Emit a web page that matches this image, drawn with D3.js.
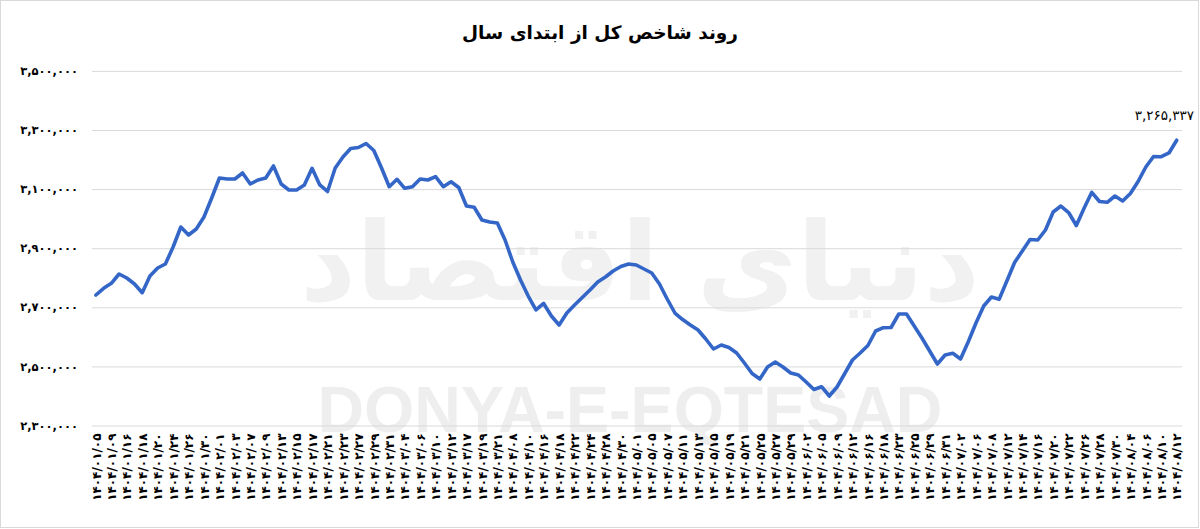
<!DOCTYPE html>
<html><head><meta charset="utf-8">
<script src="https://cdn.jsdelivr.net/npm/d3@7"></script>
<style>body{margin:0;background:#fff}svg{display:block}</style>
</head><body>
<svg id="chart" width="1200" height="529"></svg>
<script>
const chartTitle = "روند شاخص کل از ابتدای سال";
const watermarkFa = "دنیای اقتصاد";
const watermarkEn = "DONYA-E-EQTESAD";

// tick labels: one for every second trading day
const dateLabels = [
 "۱۴۰۴/۰۱/۰۵","۱۴۰۴/۰۱/۰۹","۱۴۰۴/۰۱/۱۶","۱۴۰۴/۰۱/۱۸","۱۴۰۴/۰۱/۲۰","۱۴۰۴/۰۱/۲۴","۱۴۰۴/۰۱/۲۶","۱۴۰۴/۰۱/۳۰",
 "۱۴۰۴/۰۲/۰۱","۱۴۰۴/۰۲/۰۳","۱۴۰۴/۰۲/۰۷","۱۴۰۴/۰۲/۰۹","۱۴۰۴/۰۲/۱۳","۱۴۰۴/۰۲/۱۵","۱۴۰۴/۰۲/۱۷","۱۴۰۴/۰۲/۲۱",
 "۱۴۰۴/۰۲/۲۳","۱۴۰۴/۰۲/۲۷","۱۴۰۴/۰۲/۲۹","۱۴۰۴/۰۲/۳۱",
 "۱۴۰۴/۰۳/۰۴","۱۴۰۴/۰۳/۰۶","۱۴۰۴/۰۳/۱۰","۱۴۰۴/۰۳/۱۲","۱۴۰۴/۰۳/۱۷","۱۴۰۴/۰۳/۱۹","۱۴۰۴/۰۳/۲۱",
 "۱۴۰۴/۰۴/۰۸","۱۴۰۴/۰۴/۱۰","۱۴۰۴/۰۴/۱۶","۱۴۰۴/۰۴/۱۸","۱۴۰۴/۰۴/۲۲","۱۴۰۴/۰۴/۲۴","۱۴۰۴/۰۴/۲۸","۱۴۰۴/۰۴/۳۰",
 "۱۴۰۴/۰۵/۰۱","۱۴۰۴/۰۵/۰۵","۱۴۰۴/۰۵/۰۷","۱۴۰۴/۰۵/۱۱","۱۴۰۴/۰۵/۱۳","۱۴۰۴/۰۵/۱۵","۱۴۰۴/۰۵/۱۹","۱۴۰۴/۰۵/۲۱",
 "۱۴۰۴/۰۵/۲۵","۱۴۰۴/۰۵/۲۷","۱۴۰۴/۰۵/۲۹",
 "۱۴۰۴/۰۶/۰۲","۱۴۰۴/۰۶/۰۵","۱۴۰۴/۰۶/۰۹","۱۴۰۴/۰۶/۱۲","۱۴۰۴/۰۶/۱۶","۱۴۰۴/۰۶/۱۸","۱۴۰۴/۰۶/۲۳","۱۴۰۴/۰۶/۲۵",
 "۱۴۰۴/۰۶/۲۹","۱۴۰۴/۰۶/۳۱",
 "۱۴۰۴/۰۷/۰۲","۱۴۰۴/۰۷/۰۶","۱۴۰۴/۰۷/۰۸","۱۴۰۴/۰۷/۱۲","۱۴۰۴/۰۷/۱۴","۱۴۰۴/۰۷/۱۶","۱۴۰۴/۰۷/۲۰","۱۴۰۴/۰۷/۲۲",
 "۱۴۰۴/۰۷/۲۶","۱۴۰۴/۰۷/۲۸","۱۴۰۴/۰۷/۳۰",
 "۱۴۰۴/۰۸/۰۴","۱۴۰۴/۰۸/۰۶","۱۴۰۴/۰۸/۱۰","۱۴۰۴/۰۸/۱۲"
];

// TEDPIX close, one value per trading day
const indexValues = [
 2741600,2764300,2781200,2812700,2799100,2778800,2749400,2805900,2833000,2846500,
 2904100,2971700,2944700,2965000,3005600,3069900,3137600,3134200,3134200,3154500,
 3117300,3130800,3137600,3178200,3117300,3097000,3097000,3113900,3170400,3113900,
 3091900,3171400,3208600,3237400,3240800,3254300,3230600,3171400,3108100,3133200,
 3102700,3108100,3134200,3130800,3142000,3108100,3125000,3105400,3042800,3038400,
 2995400,2988700,2985300,2927700,2853300,2792400,2738200,2690900,2712900,2670600,
 2640100,2680700,2707800,2733200,2758500,2785600,2802500,2822800,2838100,2846500,
 2843100,2829600,2816100,2778800,2728100,2680700,2658700,2640100,2623200,2592700,
 2558900,2572400,2564000,2545300,2511500,2476000,2457400,2498000,2514900,2498000,
 2477700,2470900,2447200,2421800,2431300,2399800,2430300,2476000,2521700,2545300,
 2570700,2619800,2631000,2631600,2677300,2677300,2636700,2596100,2552100,2508100,
 2538600,2544300,2525000,2583600,2646900,2704400,2734900,2727100,2789000,2851600,
 2890500,2929400,2927700,2961600,3022500,3042800,3020800,2976800,3035000,3089200,
 3058000,3055300,3076600,3059700,3085100,3125700,3174800,3210300,3209600,3222200,
 3265337
];

const yTickValues = [2300000,2500000,2700000,2900000,3100000,3300000,3500000];

const faDigits = s => String(s).replace(/[0-9]/g, d => "۰۱۲۳۴۵۶۷۸۹"[+d]);
const fmt = v => faDigits(d3.format(",")(v));

const svg = d3.select("#chart");
const W = 1200, H = 529;

svg.append("rect").attr("x",0.5).attr("y",0.5).attr("width",W-2).attr("height",H-2)
  .attr("fill","#fff").attr("stroke","#d9d9d9");

const plot = {left:92, right:1182, top:70.9, bottom:425.5};

const idx = d3.range(indexValues.length);
const x = d3.scalePoint().domain(idx).range([95.9, 1176.7]);
const y = d3.scaleLinear().domain([2300000,3500000]).range([plot.bottom, plot.top]);

// watermark (sized to its natural width, no stretching)
const wfa = svg.append("text").text(watermarkFa)
  .attr("x", 640).attr("y", 300).attr("text-anchor","middle")
  .attr("font-family","DejaVu Sans").attr("font-weight","bold").attr("font-size",100)
  .attr("fill","#f1f1f1");
const wfaLen = wfa.node().getComputedTextLength();
wfa.attr("font-size", Math.min(170, 100 * 680 / wfaLen));

const wen = svg.append("text").text(watermarkEn)
  .attr("x", 630).attr("y", 432).attr("text-anchor","middle")
  .attr("font-family","Liberation Sans").attr("font-weight","bold").attr("font-size",60)
  .attr("fill","#eeeeee");
const wenLen = wen.node().getComputedTextLength();
wen.attr("font-size", 60 * 625 / wenLen);

// gridlines + y labels
const yAxis = d3.axisLeft(y).tickValues(yTickValues)
  .tickSize(-(plot.right-plot.left)).tickPadding(14).tickFormat(fmt);
const gy = svg.append("g").attr("transform",`translate(${plot.left},0)`).call(yAxis);
gy.select(".domain").remove();
gy.selectAll(".tick line").attr("stroke","#d9d9d9").attr("stroke-width",1);
gy.selectAll(".tick text").attr("font-family","DejaVu Sans").attr("font-weight","bold")
  .attr("font-size",11.5).attr("fill","#000");

// x labels
const labelIdx = idx.filter(i => i % 2 === 0);
const xAxis = d3.axisBottom(x).tickValues(labelIdx).tickSize(0)
  .tickFormat(i => dateLabels[i/2]);
const gx = svg.append("g").attr("transform",`translate(0,${plot.bottom})`).call(xAxis);
gx.select(".domain").remove();
gx.selectAll(".tick text")
  .attr("font-family","DejaVu Sans").attr("font-weight","bold").attr("font-size",12)
  .attr("fill","#000")
  .attr("text-anchor","end").attr("dy","0.35em")
  .attr("transform","translate(0,8) rotate(-90)").attr("x",0).attr("y",0);

// line
const line = d3.line().x((d,i)=>x(i)).y(d=>y(d));
svg.append("path").datum(indexValues).attr("d",line)
  .attr("fill","none").attr("stroke","#3466c8").attr("stroke-width",3.6)
  .attr("stroke-linejoin","round").attr("stroke-linecap","round");

// last value label
const last = indexValues[indexValues.length-1];
svg.append("text").text(fmt(last))
  .attr("x", 1194).attr("y", y(last) - 20).attr("text-anchor","end")
  .attr("font-family","DejaVu Sans").attr("font-size",13.5).attr("fill","#000");

// title
svg.append("text").text(chartTitle)
  .attr("x", 600).attr("y", 39).attr("text-anchor","middle")
  .attr("font-family","DejaVu Sans").attr("font-weight","bold").attr("font-size",18.5)
  .attr("fill","#000");
</script>
</body></html>
